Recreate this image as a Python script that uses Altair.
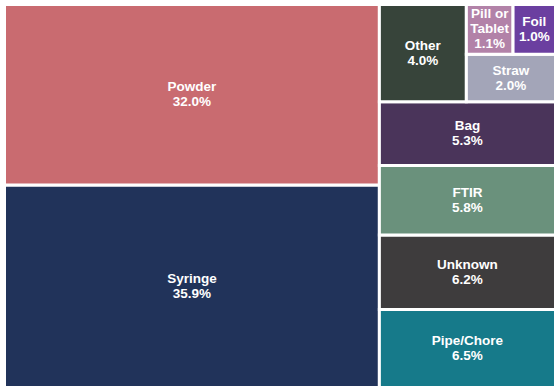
import textwrap

import altair as alt
import pandas as pd

# Share of samples by source type (percent)
categories = ["Syringe", "Powder", "Pipe/Chore", "Unknown", "FTIR", "Bag",
              "Other", "Straw", "Pill or Tablet", "Foil"]
shares = [35.9, 32.0, 6.5, 6.2, 5.8, 5.3, 4.0, 2.0, 1.1, 1.0]
colors = ["#21335A", "#C96B70", "#167A8A", "#3E3C3D", "#6A917C", "#4A345A",
          "#37443A", "#A3A5B8", "#B282A8", "#6B3FA0"]

PLOT_W, PLOT_H = 551, 383
FONT_SIZE = 13.5
LINE_H = 15


def worst_ratio(row, side):
    """Worst aspect ratio of a strip of areas laid along `side`."""
    t = sum(row) / side
    return max(max(t / (a / t), (a / t) / t) for a in row)


def squarify(areas, x, y, w, h):
    """Squarified treemap in a unit square, filled from the bottom-left."""
    rects = []
    i, n = 0, len(areas)
    while i < n:
        side = min(w, h)
        row = [areas[i]]
        j = i + 1
        while j < n and worst_ratio(row + [areas[j]], side) <= worst_ratio(row, side):
            row.append(areas[j])
            j += 1
        s = sum(row)
        if w >= h:
            t = s / h
            yy = y
            for a in row:
                hh = a / t
                rects.append((x, yy, x + t, yy + hh))
                yy += hh
            x += t
            w -= t
        else:
            t = s / w
            xx = x
            for a in row:
                ww = a / t
                rects.append((xx, y, xx + ww, y + t))
                xx += ww
            y += t
            h -= t
        i = j
    return rects


total = sum(shares)
tiles = squarify([v / total for v in shares], 0.0, 0.0, 1.0, 1.0)

tile_rows, text_rows = [], []
for name, v, col, (x0, y0, x1, y1) in zip(categories, shares, colors, tiles):
    tile_rows.append({"category": name, "share": v, "color": col,
                      "x0": x0, "x1": x1, "y0": y0, "y1": y1})
    # wrap the name when it is wider than its tile
    max_chars = int((x1 - x0) * PLOT_W / (0.48 * FONT_SIZE))
    if len(name) > max_chars:
        name_lines = textwrap.wrap(name, max_chars, break_long_words=False)
    else:
        name_lines = [name]
    lines = name_lines + [f"{v:.1f}%"]
    n = len(lines)
    cx, cy = (x0 + x1) / 2, (y0 + y1) / 2
    for k, line in enumerate(lines):
        off_px = ((n - 1) / 2 - k) * LINE_H
        text_rows.append({"category": name, "text": line,
                          "cx": cx, "cy": cy + off_px / PLOT_H})

tiles_df = pd.DataFrame(tile_rows)
text_df = pd.DataFrame(text_rows)

xs = alt.Scale(domain=[0, 1], nice=False, zero=False)
ys = alt.Scale(domain=[0, 1], nice=False, zero=False)

tiles_layer = alt.Chart(tiles_df).mark_rect(stroke="white", strokeWidth=3).encode(
    x=alt.X("x0:Q", scale=xs, axis=None),
    x2="x1:Q",
    y=alt.Y("y0:Q", scale=ys, axis=None),
    y2="y1:Q",
    color=alt.Color("color:N", scale=None, legend=None),
)

labels_layer = alt.Chart(text_df).mark_text(
    color="white", font="Liberation Sans", fontWeight="bold",
    fontSize=FONT_SIZE, align="center", baseline="middle",
).encode(
    x=alt.X("cx:Q", scale=xs, axis=None),
    y=alt.Y("cy:Q", scale=ys, axis=None),
    text="text:N",
)

chart = alt.layer(tiles_layer, labels_layer).properties(
    width=PLOT_W, height=PLOT_H,
    padding={"left": 4.5, "top": 4.5, "right": 4.5, "bottom": 4.5},
    autosize=alt.AutoSizeParams(type="none"),
    background="white",
).configure_view(stroke=None)

chart.save("out.html", embed_options={"renderer": "svg", "actions": False})
